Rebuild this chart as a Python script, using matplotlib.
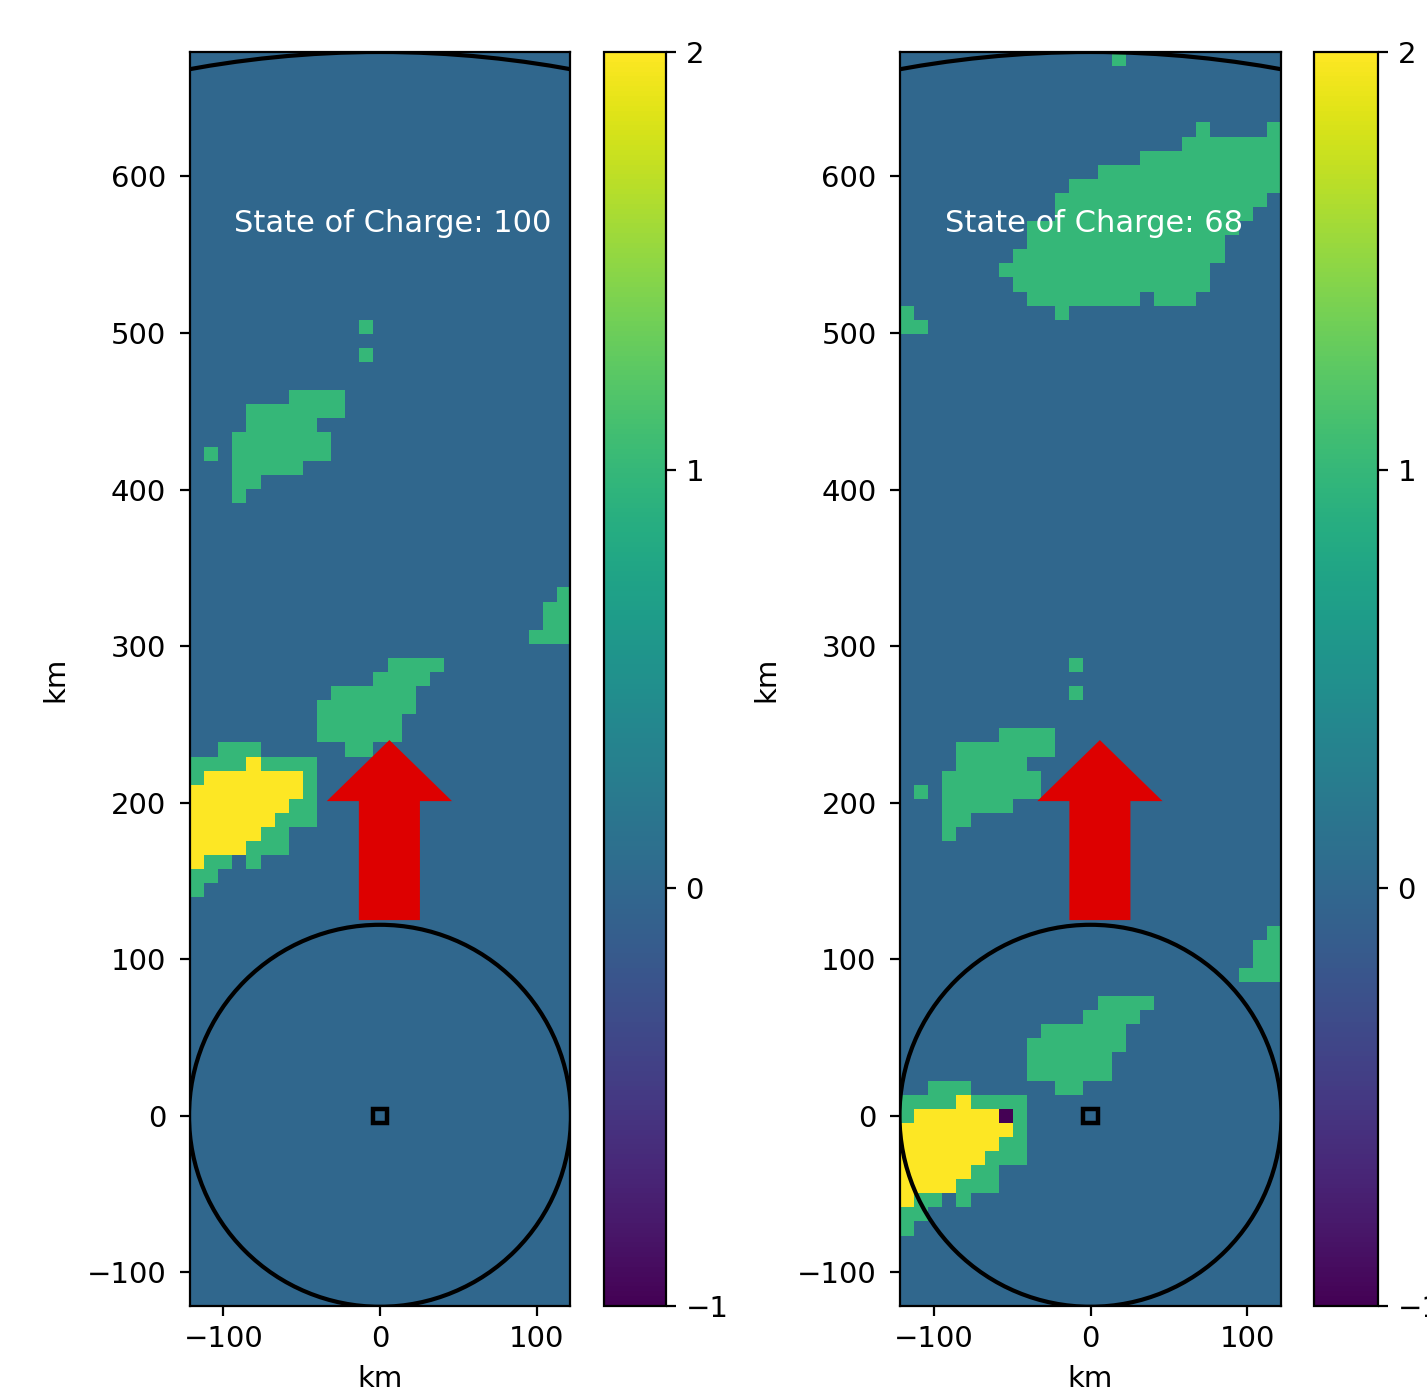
import numpy as np
import matplotlib.pyplot as plt
from matplotlib.patches import Circle, Rectangle

# map grid: 9 km cells, 27 columns (x -121.5..121.5 km), rows from y=-121.5 km up
cell = 9.0
ncol = 27
nrow = 113
view_rows = 89
view_start = [0, 24]      # first map row shown in each panel (radar moved 216 km north)
soc = [100, 68]           # state of charge for each panel

# clouds, written top row first: '.' clear, 'g' = 1, 'y' = 2
storm_top, storm_left = 39, 0
storm = ["..ggg....",
         "ggggygggg",
         "gyyyyyyyg",
         "yyyyyyyyg",
         "yyyyyyygg",
         "yyyyyyggg",
         "yyyyygg..",
         "yyyyggg..",
         "ygg.g....",
         "gg.......",
         "g........"]

mid_top, mid_left = 45, 9
mid = [".....gggg",
       "....gggg.",
       ".gggggg..",
       "ggggggg..",
       "gggggg...",
       "gggggg...",
       "..gg....."]

east_top, east_left = 50, 24
east = ["..g",
        ".gg",
        ".gg",
        "ggg"]

north_top, north_left = 64, 1
north = ["......gggg",
         "...ggggggg",
         "...ggggg..",
         "..ggggggg.",
         "g.ggggggg.",
         "..ggggg...",
         "..gg......",
         "..g......."]

far_top, far_left = 107, 7
far = ["..............g....g",
       ".............ggggggg",
       "..........gggggggggg",
       ".......ggggggggggggg",
       ".....ggggggggggggggg",
       "....ggggggggggggggg.",
       "....gggggggggggggg..",
       "..ggggggggggggggg...",
       "..gggggggggggggg....",
       ".ggggggggggggggg....",
       "ggggggggggggggg.....",
       ".gggggggggggggg.....",
       "..gggggggg.ggg......",
       "....g..............."]

edge_top, edge_left = 94, 0
edge = ["g.",
        "gg"]

loose_cells = [(67, 12), (69, 12), (112, 15)]   # single cloudy cells (row, col)
visited_cells = [(37, 7)]                        # value -1, second panel only

vals = {".": 0, "g": 1, "y": 2}
grid = np.zeros((nrow, ncol))


def paint(top, left, block):
    for k, line in enumerate(block):
        for m, ch in enumerate(line):
            if ch != ".":
                grid[top - k, left + m] = vals[ch]


paint(storm_top, storm_left, storm)
paint(mid_top, mid_left, mid)
paint(east_top, east_left, east)
paint(north_top, north_left, north)
paint(far_top, far_left, far)
paint(edge_top, edge_left, edge)
for r, c in loose_cells:
    grid[r, c] = 1

W, H = 1427, 1395
plt.rcParams["font.size"] = 10.5
fig = plt.figure(figsize=(W / 200, H / 200), dpi=200)

xl = ncol * cell / 2
ylo = -xl
yhi = ylo + view_rows * cell
axpos = [(189, 382, 604, 62), (900, 381, 1314, 64)]

for p in range(2):
    x0, w0, cx0, cw0 = axpos[p]
    ax = fig.add_axes([x0 / W, 89 / H, w0 / W, 1254 / H])
    cax = fig.add_axes([cx0 / W, 89 / H, cw0 / W, 1254 / H])

    sub = grid[view_start[p]:view_start[p] + view_rows].copy()
    if p == 1:
        for r, c in visited_cells:
            sub[r - view_start[p], c] = -1

    im = ax.imshow(sub, origin="lower", cmap="viridis", vmin=-1, vmax=2,
                   extent=(-xl, xl, ylo, yhi), interpolation="nearest")
    ax.add_patch(Circle((0, 0), 122, fill=False, ec="black", lw=1.5))
    ax.add_patch(Circle((0, 0), 679.5, fill=False, ec="black", lw=1.5))
    ax.add_patch(Rectangle((-4.5, -4.5), 9, 9, fill=False, ec="black", lw=1.6))
    ax.arrow(6, 125, 0, 115, width=39, head_width=80, head_length=39,
             length_includes_head=True, fc="#dd0000", ec="#dd0000", lw=0)
    ax.text(-93, 570, "State of Charge: %d" % soc[p], color="white",
            fontsize=11, va="center", ha="left")

    ax.set_xlim(-xl, xl)
    ax.set_ylim(ylo, yhi)
    ax.set_xticks([-100, 0, 100])
    ax.set_yticks(np.arange(-100, 700, 100))
    ax.tick_params(axis="y", pad=5)
    ax.set_xlabel("km")
    ax.set_ylabel("km", labelpad=6)

    fig.colorbar(im, cax=cax, ticks=[-1, 0, 1, 2])

fig.savefig("out.png", dpi=200)
